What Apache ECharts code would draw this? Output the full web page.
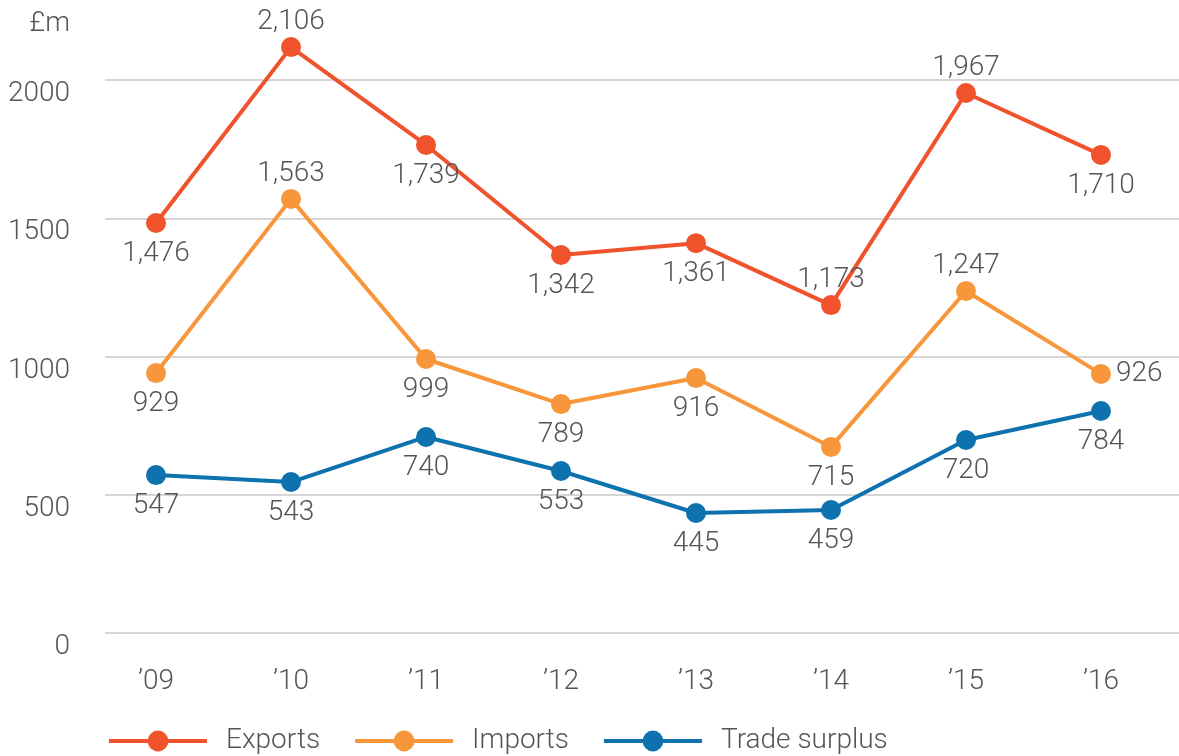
<!DOCTYPE html>
<html>
<head>
<meta charset="utf-8">
<script src="https://cdn.jsdelivr.net/npm/echarts@6/dist/echarts.min.js"></script>
<style>
  html, body { margin: 0; padding: 0; background: #fff; }
  #chart { width: 1179px; height: 756px; }
</style>
</head>
<body>
<div id="chart"></div>
<script>
// years on the x axis
const years = ["\u201909", "\u201910", "\u201911", "\u201912", "\u201913", "\u201914", "\u201915", "\u201916"];

// plotted values
const exportsVals = [1483, 2119, 1765, 1367, 1410, 1186, 1953, 1729];
const importsVals = [940, 1570, 991, 828, 922, 673, 1237, 937];
const surplusVals = [571, 546, 709, 586, 434, 445, 698, 803];

// the printed labels
const exportsLabels = ["1,476", "2,106", "1,739", "1,342", "1,361", "1,173", "1,967", "1,710"];
const importsLabels = ["929", "1,563", "999", "789", "916", "715", "1,247", "926"];
const surplusLabels = ["547", "543", "740", "553", "445", "459", "720", "784"];

const yTicks = [0, 500, 1000, 1500, 2000];

// where each label sits relative to its point
const exportsPos = ["bottom", "top", "bottom", "bottom", "bottom", "top", "top", "bottom"];
const importsPos = ["bottom", "top", "bottom", "bottom", "bottom", "bottom", "top", "right"];
const surplusPos = ["bottom", "bottom", "bottom", "bottom", "bottom", "bottom", "bottom", "bottom"];
const labelGap = { top: 1, bottom: 7, right: 5 };

const font = "Roboto";
const textColor = "#555555";
const fs = 28;

function makeSeries(name, color, vals, labels, pos) {
  return {
    name: name,
    type: "line",
    clip: false,
    symbol: "circle",
    symbolSize: 20,
    lineStyle: { width: 4, color: color },
    itemStyle: { color: color },
    data: vals.map((v, i) => ({
      value: [i, v],
      label: {
        show: true,
        position: pos[i],
        distance: labelGap[pos[i]],
        formatter: labels[i],
        fontFamily: font,
        fontWeight: 300,
        fontSize: fs,
        color: textColor
      }
    }))
  };
}

let chart = echarts.init(document.getElementById("chart"));
chart.setOption({
  animation: false,
  backgroundColor: "#fff",
  title: {
    text: "\u00a3m",
    right: 1109,
    top: 10,
    padding: 0,
    textStyle: { fontFamily: font, fontWeight: 300, fontSize: fs, color: textColor }
  },
  grid: { left: 105, right: 0, top: 80, bottom: 123 },
  xAxis: {
    type: "value",
    min: -0.378,
    max: 7.578,
    axisLine: { show: false },
    axisTick: { show: false },
    splitLine: { show: false },
    axisLabel: {
      customValues: years.map((y, i) => i),
      formatter: v => years[Math.round(v)],
      margin: 35,
      fontFamily: font,
      fontWeight: 300,
      fontSize: fs,
      color: textColor
    }
  },
  yAxis: {
    type: "value",
    min: 0,
    max: 2000,
    interval: 500,
    axisLine: { show: false },
    axisTick: { show: false },
    splitLine: { lineStyle: { color: "#d6d6d6", width: 2 } },
    axisLabel: {
      customValues: yTicks,
      formatter: v => String(v),
      margin: 35,
      verticalAlign: "top",
      fontFamily: font,
      fontWeight: 300,
      fontSize: fs,
      color: textColor
    }
  },
  legend: {
    left: 107,
    top: 727,
    padding: 0,
    itemWidth: 98,
    itemHeight: 26,
    itemGap: 33,
    lineStyle: { width: 4 },
    textStyle: {
      fontFamily: font,
      fontWeight: 300,
      fontSize: fs,
      color: textColor,
      padding: [0, 0, 0, 14]
    },
    data: ["Exports", "Imports", "Trade surplus"]
  },
  series: [
    makeSeries("Exports", "#f0522b", exportsVals, exportsLabels, exportsPos),
    makeSeries("Imports", "#f7963a", importsVals, importsLabels, importsPos),
    makeSeries("Trade surplus", "#0e72ae", surplusVals, surplusLabels, surplusPos)
  ]
});
</script>
</body>
</html>
